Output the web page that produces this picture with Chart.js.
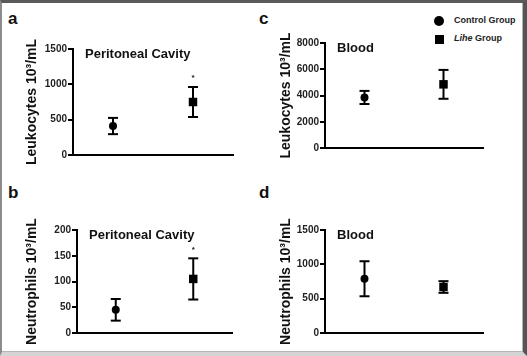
<!DOCTYPE html>
<html>
<head>
<meta charset="utf-8">
<script src="https://cdn.jsdelivr.net/npm/chart.js@4"></script>
<style>
  html, body { margin: 0; padding: 0; background: #fff; }
  #frame {
    position: absolute; left: 0; top: 0; width: 527px; height: 356px;
    box-sizing: border-box; background: #fff;
    border-top: 3px solid #5a5a5a; border-left: 2px solid #8c8c8c;
    border-right: 4px solid #555; border-bottom: 4px solid #d4d4d4;
    box-shadow: inset -1px -1px 0 #b5b5b5;
  }
  .box { position: absolute; }
  .lbl { position: absolute; font: bold 17px "Liberation Sans", Arial, sans-serif; color: #111; }
  .leg { position: absolute; font: bold 9px "Liberation Sans", Arial, sans-serif; color: #222; }
  .sym { position: absolute; background: #000; }
</style>
</head>
<body>
<div id="frame"></div>
<div class="lbl" style="left:8px; top:9px;">a</div>
<div class="lbl" style="left:8px; top:183px;">b</div>
<div class="lbl" style="left:259px; top:9px;">c</div>
<div class="lbl" style="left:259px; top:183px;">d</div>

<div class="sym" style="left:434px; top:16px; width:10px; height:10px; border-radius:50%;"></div>
<div class="leg" style="left:454px; top:15px;">Control Group</div>
<div class="sym" style="left:435px; top:35px; width:9px; height:9px;"></div>
<div class="leg" style="left:454px; top:33px;"><i>Lihe</i> Group</div>

<div class="box" style="left:20px; top:30px; width:230px; height:140px;"><canvas id="chartA"></canvas></div>
<div class="box" style="left:20px; top:205px; width:230px; height:140px;"><canvas id="chartB"></canvas></div>
<div class="box" style="left:274px; top:25px; width:229px; height:140px;"><canvas id="chartC"></canvas></div>
<div class="box" style="left:274px; top:205px; width:229px; height:140px;"><canvas id="chartD"></canvas></div>

<script>
// groups and their slot on the x axis
var groups = ['Control Group', 'Lihe Group'];
var groupX = [1, 3];

// a: leukocytes, peritoneal cavity (mean, error)
var leukoCavityMean = [410, 750];
var leukoCavityErr = [115, 212];
// b: neutrophils, peritoneal cavity
var neutroCavityMean = [45, 105];
var neutroCavityErr = [21, 40];
// c: leukocytes, blood
var leukoBloodMean = [3850, 4850];
var leukoBloodErr = [500, 1100];
// d: neutrophils, blood
var neutroBloodMean = [790, 670];
var neutroBloodErr = [255, 85];

// y axis ticks
var ticksA = [0, 500, 1000, 1500];
var ticksB = [0, 50, 100, 150, 200];
var ticksC = [0, 2000, 4000, 6000, 8000];
var ticksD = [0, 500, 1000, 1500];

var FONT = '"Liberation Sans", Arial, sans-serif';

// panel title and significance star drawn inside the plot
var panelText = {
  id: 'panelText',
  afterDraw: function (chart, args, opts) {
    var ctx = chart.ctx, area = chart.chartArea;
    ctx.save();
    ctx.fillStyle = '#111';
    ctx.font = 'bold 13px ' + FONT;
    ctx.textBaseline = 'middle';
    ctx.textAlign = 'left';
    ctx.fillText(opts.title, area.left + 12, area.top + 5);
    if (opts.star != null) {
      var i = opts.star;
      var xs = chart.scales.x, ys = chart.scales.y;
      var top = opts.mean[i] + opts.err[i];
      ctx.font = 'bold 8px ' + FONT;
      ctx.textAlign = 'center';
      ctx.fillText('*', xs.getPixelForValue(groupX[i]), ys.getPixelForValue(top) - 9);
    }
    ctx.restore();
  }
};

function makePanel(id, mean, err, ticks, yTitle, yWidth, pad, title, star) {
  var stems = groups.map(function (g, i) {
    return {
      type: 'scatter', showLine: true, order: 3,
      data: [{ x: groupX[i], y: mean[i] - err[i] }, { x: groupX[i], y: mean[i] + err[i] }],
      borderColor: '#000', borderWidth: 2, pointRadius: 0
    };
  });
  var caps = {
    type: 'scatter', order: 2,
    data: groups.map(function (g, i) { return { x: groupX[i], y: mean[i] - err[i] }; })
      .concat(groups.map(function (g, i) { return { x: groupX[i], y: mean[i] + err[i] }; })),
    pointStyle: 'line', pointRadius: 5, borderColor: '#000', borderWidth: 2
  };
  var points = {
    type: 'scatter', order: 1,
    data: groups.map(function (g, i) { return { x: groupX[i], y: mean[i] }; }),
    pointStyle: ['circle', 'rect'], pointRadius: [4, 6],
    backgroundColor: '#000', borderColor: '#000', borderWidth: 0
  };
  return new Chart(document.getElementById(id), {
    type: 'scatter',
    data: { datasets: stems.concat([caps, points]) },
    plugins: [panelText],
    options: {
      responsive: true, maintainAspectRatio: false, animation: false,
      layout: { padding: pad },
      plugins: {
        legend: { display: false }, tooltip: { enabled: false },
        panelText: { title: title, star: star, mean: mean, err: err }
      },
      scales: {
        x: {
          type: 'linear', min: 0, max: 4,
          ticks: { display: false },
          grid: { display: false },
          border: { display: true, color: '#000', width: 2 },
          afterFit: function (s) { s.height = 0; }
        },
        y: {
          min: ticks[0], max: ticks[ticks.length - 1],
          afterBuildTicks: function (s) { s.ticks = ticks.map(function (v) { return { value: v }; }); },
          ticks: {
            color: '#222', font: { family: FONT, size: 10, weight: 'bold' }, padding: 1,
            callback: function (v) { return String(v); }
          },
          grid: { drawOnChartArea: false, drawTicks: true, tickLength: 5, color: '#000', lineWidth: 2 },
          border: { display: true, color: '#000', width: 2 },
          title: { display: true, text: yTitle, color: '#111', font: { family: FONT, size: 14, weight: 'bold' }, padding: { top: 4, bottom: 2 } },
          afterFit: function (s) { s.width = yWidth; }
        }
      }
    }
  });
}

makePanel('chartA', leukoCavityMean, leukoCavityErr, ticksA, 'Leukocytes 10³/mL', 53,
  { top: 19, bottom: 15, left: 0, right: 17 }, 'Peritoneal Cavity', 1);
makePanel('chartB', neutroCavityMean, neutroCavityErr, ticksB, 'Neutrophils 10³/mL', 57,
  { top: 25, bottom: 12, left: 0, right: 18 }, 'Peritoneal Cavity', 1);
makePanel('chartC', leukoBloodMean, leukoBloodErr, ticksC, 'Leukocytes 10³/mL', 51,
  { top: 18, bottom: 17, left: 0, right: 20 }, 'Blood', null);
makePanel('chartD', neutroBloodMean, neutroBloodErr, ticksD, 'Neutrophils 10³/mL', 51,
  { top: 25, bottom: 12, left: 0, right: 20 }, 'Blood', null);
</script>
</body>
</html>
